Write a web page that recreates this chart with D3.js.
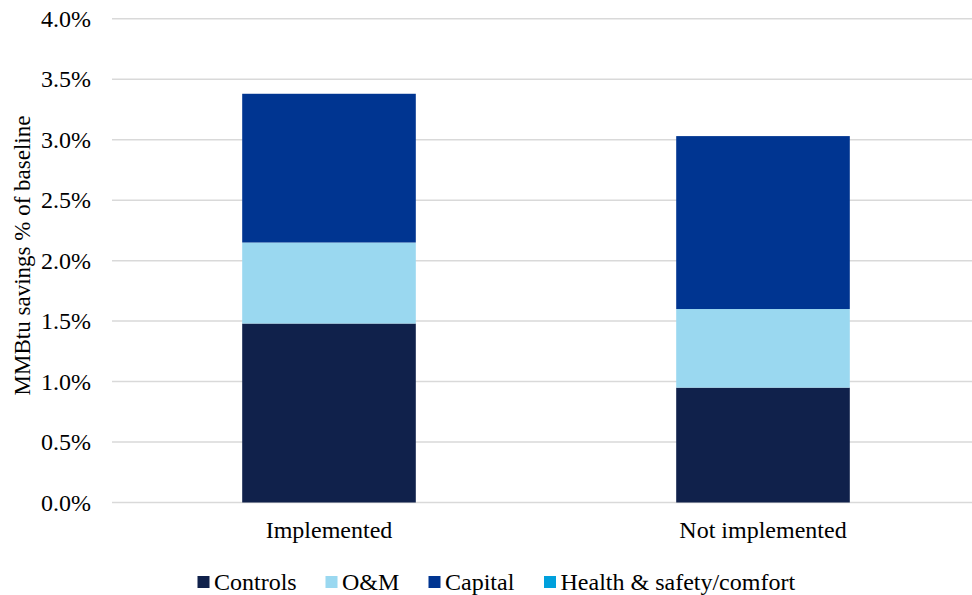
<!DOCTYPE html>
<html lang="en">
<head>
<meta charset="UTF-8">
<title>MMBtu savings</title>
<script src="https://d3js.org/d3.v7.min.js"></script>
<style>
  body { margin: 0; background: #fff; }
  svg { display: block; }
  svg text { font-family: "Liberation Serif", "DejaVu Serif", serif; fill: #000; }
</style>
</head>
<body>
<script>
// data
const categories = ["Implemented", "Not implemented"]
const seriesNames = ["Controls", "O&M", "Capital", "Health & safety/comfort"]
const controls = [1.48, 0.95]
const oandm = [0.67, 0.65]
const capital = [1.23, 1.43]
const health = [0, 0]
const yTicks = [0, 0.5, 1.0, 1.5, 2.0, 2.5, 3.0, 3.5, 4.0]
const colors = ["#10214b", "#9ad8f0", "#003591", "#00a0dc"]

const width = 972
const height = 595
const svg = d3.select("body").append("svg")
    .attr("width", width)
    .attr("height", height)

const x = d3.scaleBand()
    .domain(categories)
    .range([112, 980])
    .paddingInner(0.6)
    .paddingOuter(0.3)

const y = d3.scaleLinear()
    .domain([0, 4])
    .range([502.5, 18.8])

// gridlines
svg.append("g")
    .selectAll("line")
    .data(yTicks)
    .enter()
    .append("line")
    .attr("x1", 112)
    .attr("x2", width)
    .attr("y1", d => y(d))
    .attr("y2", d => y(d))
    .attr("stroke", "#d9d9d9")
    .attr("stroke-width", 1.5)

// tick labels
svg.append("g")
    .selectAll("text")
    .data(yTicks)
    .enter()
    .append("text")
    .attr("x", 91)
    .attr("y", d => y(d) + 8)
    .attr("text-anchor", "end")
    .style("font-size", "24px")
    .text(d => d.toFixed(1) + "%")

// stacked bars
const rows = categories.map((c, i) => ({
    cat: c,
    "Controls": controls[i],
    "O&M": oandm[i],
    "Capital": capital[i],
    "Health & safety/comfort": health[i]
}))
const stacked = d3.stack().keys(seriesNames)(rows)

svg.append("g")
    .selectAll("g")
    .data(stacked)
    .enter()
    .append("g")
    .attr("fill", (d, i) => colors[i])
    .selectAll("rect")
    .data(d => d)
    .enter()
    .append("rect")
    .attr("x", d => x(d.data.cat))
    .attr("width", x.bandwidth())
    .attr("y", d => y(d[1]))
    .attr("height", d => y(d[0]) - y(d[1]))

// category labels
svg.append("g")
    .selectAll("text")
    .data(categories)
    .enter()
    .append("text")
    .attr("x", d => x(d) + x.bandwidth() / 2)
    .attr("y", 538)
    .attr("text-anchor", "middle")
    .style("font-size", "24px")
    .text(d => d)

// y axis title
svg.append("text")
    .attr("transform", `translate(29.5, 255.5) rotate(-90)`)
    .attr("text-anchor", "middle")
    .style("font-size", "23px")
    .text("MMBtu savings % of baseline")

// legend
const legendX = [197.5, 325.5, 428.5, 544]
const legend = svg.append("g")
    .selectAll("g")
    .data(seriesNames)
    .enter()
    .append("g")
    .attr("transform", (d, i) => `translate(${legendX[i]}, 576)`)
legend.append("rect")
    .attr("width", 12)
    .attr("height", 12)
    .attr("fill", (d, i) => colors[i])
legend.append("text")
    .attr("x", 16.5)
    .attr("y", 14)
    .style("font-size", "24px")
    .text(d => d)
</script>
</body>
</html>
